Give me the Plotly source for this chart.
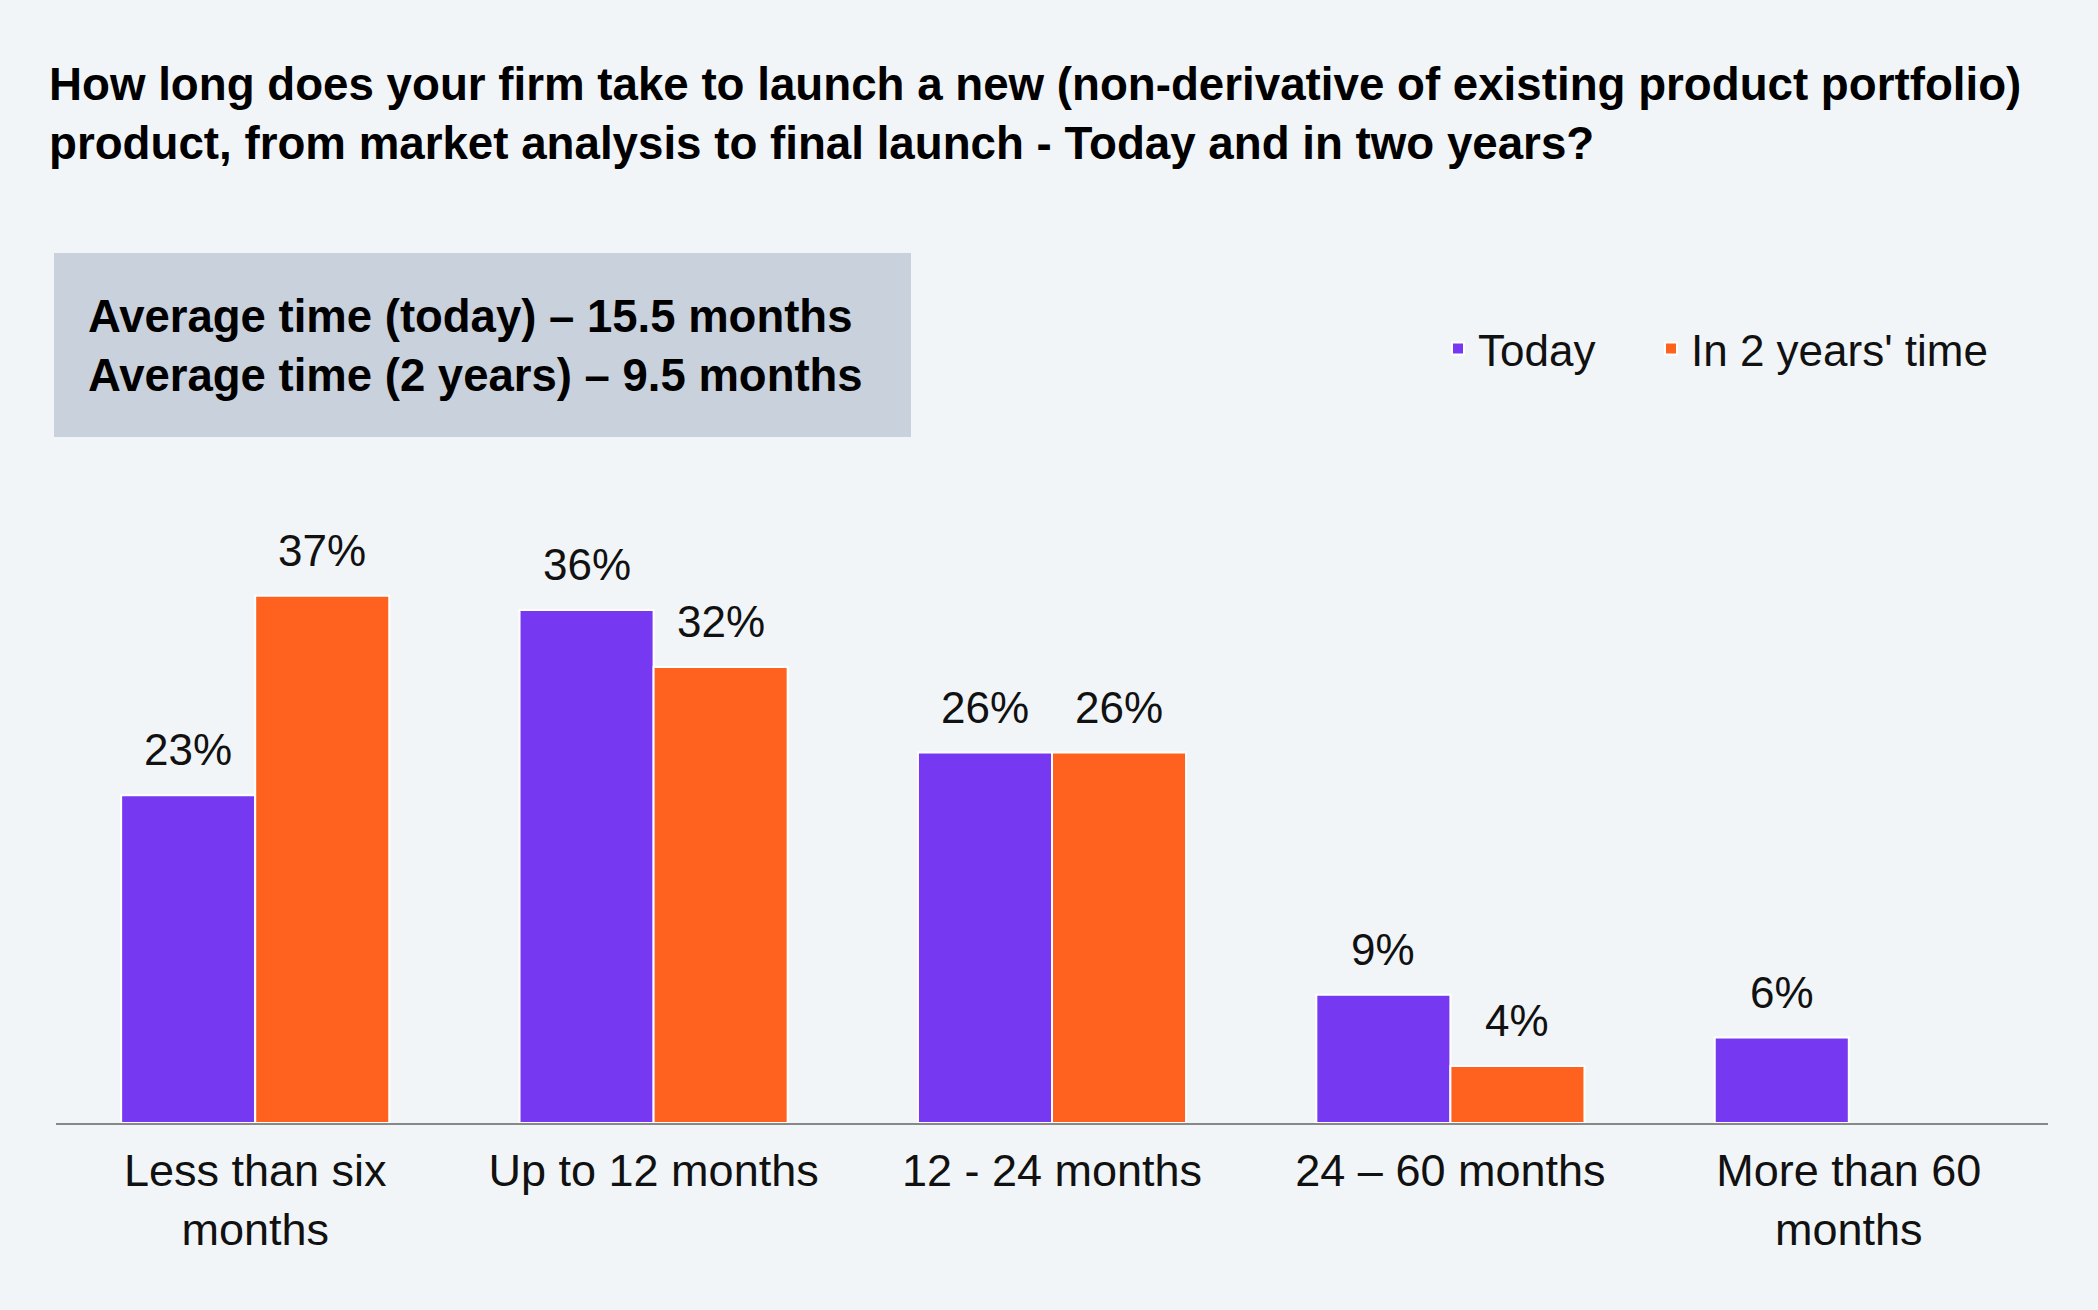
import plotly.graph_objects as go

categories = ["Less than six<br>months", "Up to 12 months", "12 - 24 months", "24 – 60 months", "More than 60<br>months"]
today = [23, 36, 26, 9, 6]
in_two_years = [37, 32, 26, 4, None]
series_names = ["Today", "In 2 years' time"]
colors = ["#7638F0", "#FE621E"]
title_text = "How long does your firm take to launch a new (non-derivative of existing product portfolio)<br>product, from market analysis to final launch - Today and in two years?"
box_lines = ["Average time (today) – 15.5 months", "Average time (2 years) – 9.5 months"]

FONT = "Liberation Sans, Arial, Helvetica, sans-serif"
W, H = 2098, 1310
L, R, T, B = 56, 50, 553, 187
plot_w = W - L - R
plot_h = H - T - B

def px_x(X):
    return (X - L) / plot_w

def px_y(Y):
    return (H - B - Y) / plot_h

fig = go.Figure()
legend_ids = ["legend", "legend2"]
for name, vals, col, lg in zip(series_names, [today, in_two_years], colors, legend_ids):
    fig.add_trace(go.Bar(
        x=categories, y=vals, name=name, legend=lg, showlegend=True,
        marker=dict(color=col, line=dict(color="white", width=2)),
    ))

annotations = []
bar_half = 67
for vals, sh in [(today, -bar_half), (in_two_years, bar_half)]:
    for c, v in zip(categories, vals):
        if v is None:
            continue
        annotations.append(dict(
            x=c, y=v, xref="x", yref="y", text=f"{v}%", showarrow=False,
            xanchor="center", yanchor="bottom", xshift=sh, yshift=19,
            font=dict(family=FONT, size=44, color="#111111"),
        ))

for line, yc in zip(box_lines, [316, 376]):
    annotations.append(dict(
        x=px_x(86), y=px_y(yc), xref="paper", yref="paper",
        text=line, showarrow=False, align="left",
        xanchor="left", yanchor="middle",
        font=dict(family=FONT, size=45.5, color="#000000", weight="bold"),
    ))

fig.add_shape(type="rect", xref="paper", yref="paper",
              x0=px_x(54), x1=px_x(911), y0=px_y(437), y1=px_y(253),
              fillcolor="#C9D1DC", line=dict(width=0), layer="below")

legend_common = dict(orientation="h", xanchor="left", yanchor="middle",
                     font=dict(family=FONT, size=44, color="#111111"),
                     bgcolor="rgba(0,0,0,0)")

fig.update_layout(
    width=W, height=H,
    margin=dict(l=L, r=R, t=T, b=B),
    paper_bgcolor="#F2F5F8", plot_bgcolor="#F2F5F8",
    barmode="group", bargap=0.327, bargroupgap=0,
    showlegend=True,
    title=dict(text=title_text, x=49 / W, xanchor="left", xref="container",
               y=1 - 100 / H, yanchor="top", yref="container",
               font=dict(family=FONT, size=45.7, color="#000000", weight="bold")),
    legend=dict(x=px_x(1438), y=px_y(349), **legend_common),
    legend2=dict(x=px_x(1651), y=px_y(349), **legend_common),
    annotations=annotations,
    font=dict(family=FONT),
)
fig.update_xaxes(showline=True, linecolor="#888888", linewidth=2, showgrid=False,
                 ticks="outside", ticklen=7, tickcolor="rgba(0,0,0,0)",
                 tickfont=dict(family=FONT, size=45, color="#111111"))
fig.update_yaxes(range=[0, 40], visible=False, showgrid=False, zeroline=False)

fig.write_html("out.html")
